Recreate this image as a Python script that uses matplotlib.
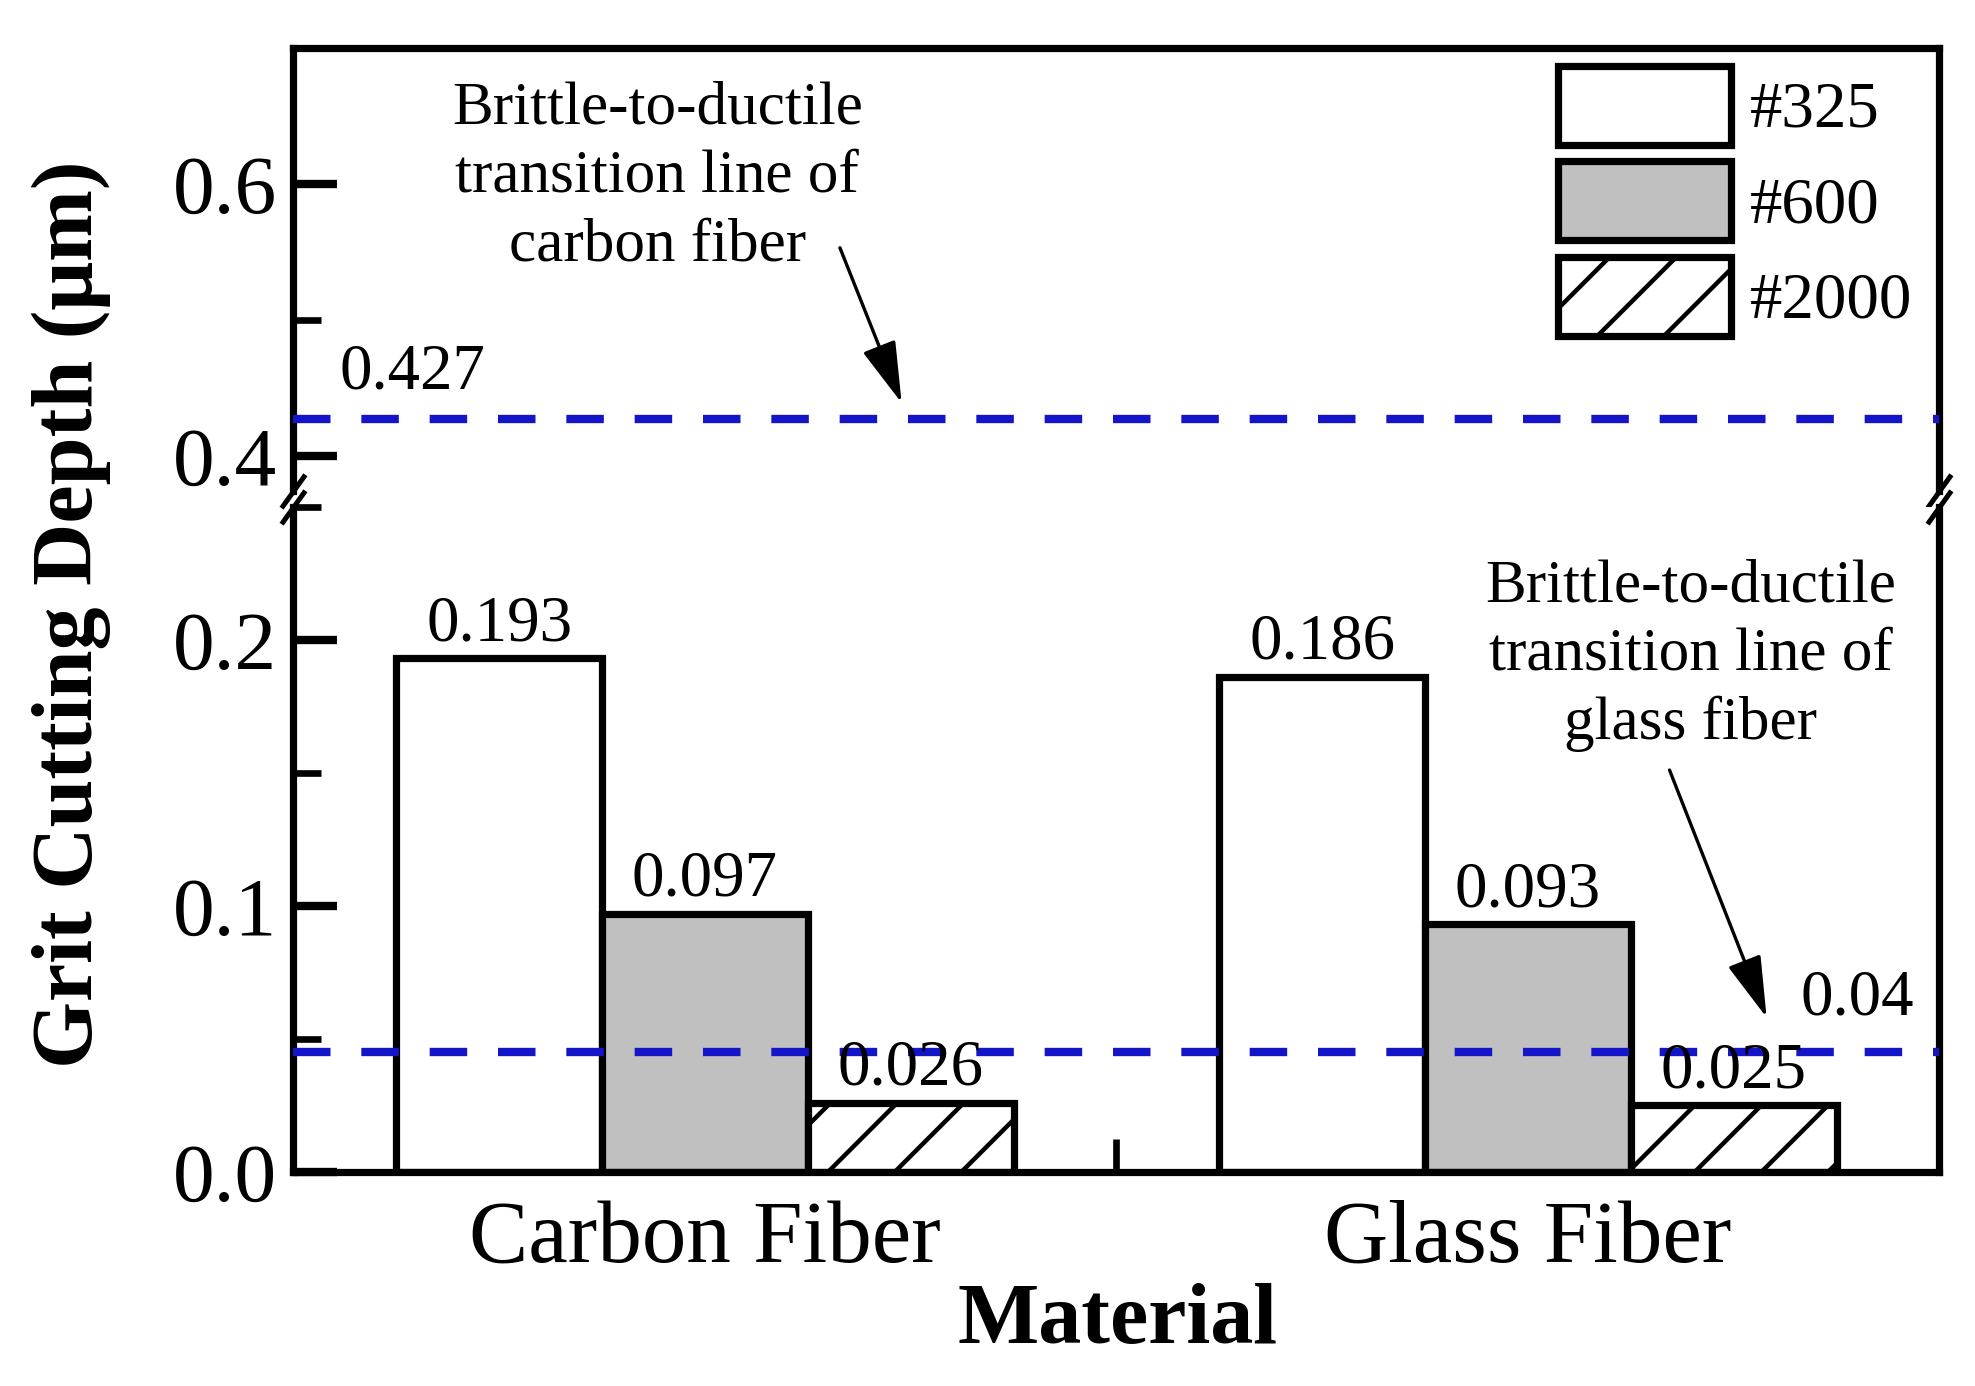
import numpy as np
import matplotlib
matplotlib.use("Agg")
import matplotlib.pyplot as plt
from matplotlib.ticker import MultipleLocator, FixedLocator

plt.rcParams['font.family'] = 'serif'
plt.rcParams['font.serif'] = ['Liberation Serif', 'DejaVu Serif']
plt.rcParams['hatch.linewidth'] = 0.8

# data
categories = ['Carbon Fiber', 'Glass Fiber']
grits = ['#325', '#600', '#2000']
depth_325 = [0.193, 0.186]
depth_600 = [0.097, 0.093]
depth_2000 = [0.026, 0.025]
carbon_line = 0.427
glass_line = 0.045
carbon_line_label = '0.427'
glass_line_label = '0.04'

fills = ['white', '#c0c0c0', 'white']
hatches = [None, None, '//']
blue = '#1414c8'
lw = 1.3

fig = plt.figure(figsize=(1975 / 400, 1386 / 400), dpi=400)
ax_top = fig.add_axes([0.1486, 0.6455, 0.8334, 0.32])
ax_bot = fig.add_axes([0.1486, 0.1545, 0.8334, 0.48], sharex=ax_top)

x = np.arange(len(categories))
w = 0.25
handles = []
for i, vals in enumerate([depth_325, depth_600, depth_2000]):
    bars = ax_bot.bar(x + (i - 1) * w, vals, w, color=fills[i], edgecolor='k',
                      linewidth=lw, hatch=hatches[i], label=grits[i], zorder=2)
    handles.append(bars)
    for xi, v in zip(x + (i - 1) * w, vals):
        ax_bot.text(xi, v + 0.0015, f'{v:.3f}', ha='center', va='bottom', fontsize=11.7, zorder=4)

# transition lines
dash = dict(color=blue, lw=1.5, dashes=(4.5, 3.7), zorder=3)
ax_top.axhline(carbon_line, **dash)
ax_bot.axhline(glass_line, **dash)
ax_top.text(-0.355, carbon_line + 0.012, carbon_line_label, ha='center', va='bottom', fontsize=11.7)
ax_bot.text(1.40, glass_line + 0.009, glass_line_label, ha='center', va='bottom', fontsize=11.7)

# annotations
arrow = dict(arrowstyle='-|>,head_length=0.6,head_width=0.17', mutation_scale=16,
             color='k', lw=0.6, shrinkA=0, shrinkB=0)
ax_top.text(-0.058, 0.605, 'Brittle-to-ductile\ntransition line of\ncarbon fiber',
            ha='center', va='center', fontsize=11, linespacing=1.3)
ax_top.annotate('', xy=(0.239, 0.439), xytext=(0.164, 0.553), arrowprops=arrow)
ax_bot.text(1.198, 0.194, 'Brittle-to-ductile\ntransition line of\nglass fiber',
            ha='center', va='center', fontsize=11, linespacing=1.3)
ax_bot.annotate('', xy=(1.29, 0.058), xytext=(1.172, 0.151), arrowprops=arrow)

# axes limits and ticks
ax_top.set_xlim(-0.5, 1.5)
ax_top.set_ylim(0.374, 0.70)
ax_bot.set_ylim(0, 0.25)

ax_top.yaxis.set_major_locator(FixedLocator([0.4, 0.6]))
ax_top.yaxis.set_minor_locator(FixedLocator([0.5]))
ax_top.yaxis.set_major_formatter(plt.FormatStrFormatter('%.1f'))
ax_bot.yaxis.set_major_locator(MultipleLocator(0.1))
ax_bot.yaxis.set_minor_locator(MultipleLocator(0.05))
ax_bot.yaxis.set_major_formatter(plt.FormatStrFormatter('%.1f'))
ax_bot.set_xticks(x)
ax_bot.set_xticklabels(categories)
ax_bot.xaxis.set_minor_locator(FixedLocator([0.5]))

for ax in (ax_top, ax_bot):
    ax.tick_params(axis='y', which='major', direction='in', length=8, width=1.5,
                   labelsize=15, pad=3, right=False)
    ax.tick_params(axis='y', which='minor', direction='in', length=5, width=1.2, right=False)
    for s in ax.spines.values():
        s.set_linewidth(lw)

ax_top.spines['bottom'].set_visible(False)
ax_bot.spines['top'].set_visible(False)
ax_top.tick_params(axis='x', which='both', bottom=False, top=False, labelbottom=False)
ax_bot.tick_params(axis='x', which='major', length=0, labelsize=16, pad=5)
ax_bot.tick_params(axis='x', which='minor', direction='in', length=6, width=1.2)

# break marks
d = 1.4
mk = dict(marker=[(-1, -d), (1, d)], markersize=6, linestyle='none', color='k',
          mec='k', mew=0.9, clip_on=False)
ax_top.plot([0, 1], [0, 0], transform=ax_top.transAxes, **mk)
ax_bot.plot([0, 1], [1, 1], transform=ax_bot.transAxes, **mk)

leg = ax_top.legend(handles=handles, labels=grits, loc='upper left',
                    bbox_to_anchor=(0.789, 0.9527), bbox_transform=fig.transFigure,
                    frameon=False, fontsize=11.7, handlelength=2.65, handleheight=1.5,
                    handletextpad=0.3, labelspacing=0.25, borderpad=0, borderaxespad=0)

fig.text(0.036, 0.557, 'Grit Cutting Depth (μm)', rotation=90, ha='center', va='center',
         fontsize=15.5, fontweight='bold')
fig.text(0.566, 0.0455, 'Material', ha='center', va='center', fontsize=15.5, fontweight='bold')

fig.savefig('out.png', dpi=400)
